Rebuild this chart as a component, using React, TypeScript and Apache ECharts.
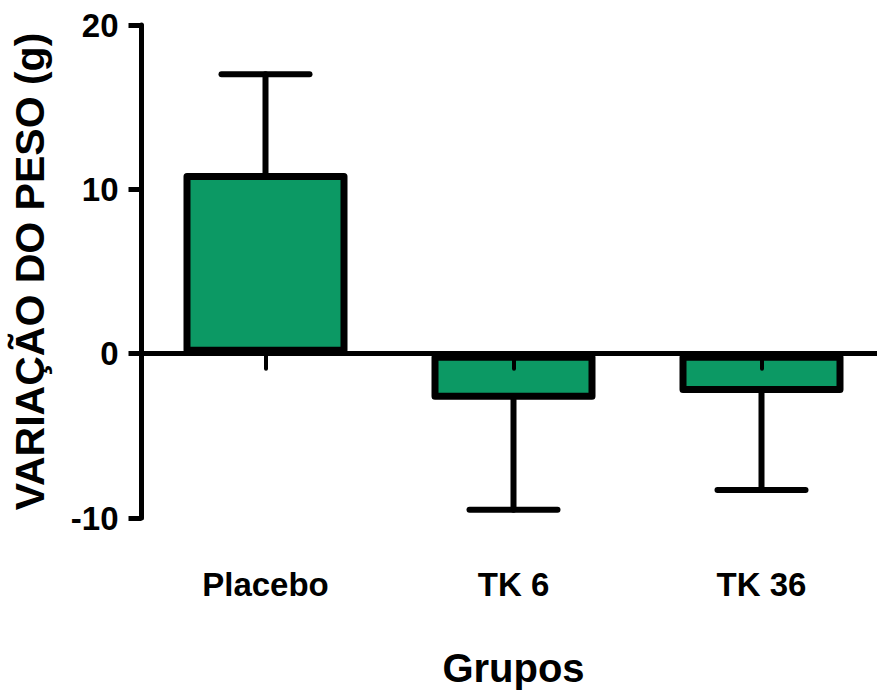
import React, { useEffect, useRef } from "react";
import * as echarts from "echarts";

const categories = ["Placebo", "TK 6", "TK 36"];
const means = [11, -2.8, -2.4];
const errors = [6, 6.7, 5.9];
const yTicks = { min: -10, max: 20, interval: 10 };
const yTitle = "VARIAÇÃO DO PESO (g)";
const xTitle = "Grupos";

const FONT = "'Liberation Sans', Arial, Helvetica, sans-serif";
const BAR_COLOR = "#0c9964";

export default function App() {
  const ref = useRef<HTMLDivElement>(null);
  useEffect(() => {
    if (!ref.current) return;
    const chart = echarts.init(ref.current, null, { renderer: "svg" });
    const errData = means.map((m, i) => [i, m, m >= 0 ? m + errors[i] : m - errors[i]]);
    chart.setOption({
      animation: false,
      backgroundColor: "#ffffff",
      grid: { left: 141.5, right: -8.5, top: 25, bottom: 175, containLabel: false, outerBoundsMode: "none" },
      xAxis: {
        type: "category",
        data: categories,
        z: 5,
        axisLine: { onZero: true, lineStyle: { color: "#000", width: 5 } },
        axisTick: { show: true, alignWithLabel: true, length: 15, lineStyle: { color: "#000", width: 4, cap: "round" } },
        axisLabel: { margin: 50, color: "#000", fontSize: 33, fontWeight: "bold", fontFamily: FONT },
        name: xTitle,
        nameLocation: "middle",
        nameGap: 130,
        nameTextStyle: { color: "#000", fontSize: 40, fontWeight: "bold", fontFamily: FONT },
        splitLine: { show: false },
      },
      yAxis: {
        type: "value",
        min: yTicks.min,
        max: yTicks.max,
        interval: yTicks.interval,
        z: 5,
        axisLine: { show: true, lineStyle: { color: "#000", width: 5 } },
        axisTick: { show: true, length: 13, lineStyle: { color: "#000", width: 5 } },
        axisLabel: { margin: 23, color: "#000", fontSize: 33, fontWeight: "bold", fontFamily: FONT },
        splitLine: { show: false },
        name: yTitle,
        nameLocation: "middle",
        nameGap: 91,
        nameTextStyle: { color: "#000", fontSize: 41, fontWeight: "bold", fontFamily: FONT },
      },
      series: [
        {
          type: "bar",
          data: means,
          barWidth: 164,
          itemStyle: { color: BAR_COLOR, borderColor: "#000", borderWidth: 7, borderJoin: "round" },
          z: 2,
        },
        {
          type: "custom",
          data: errData,
          z: 3,
          renderItem: (params: any, api: any) => {
            const idx = api.value(0);
            const start = api.coord([idx, api.value(1)]);
            const end = api.coord([idx, api.value(2)]);
            const half = 44;
            const style = { stroke: "#000", lineWidth: 6, lineCap: "round" };
            return {
              type: "group",
              children: [
                { type: "line", shape: { x1: start[0], y1: start[1], x2: end[0], y2: end[1] }, style },
                { type: "line", shape: { x1: end[0] - half, y1: end[1], x2: end[0] + half, y2: end[1] }, style },
              ],
            };
          },
        },
      ],
    });
    return () => chart.dispose();
  }, []);
  return (
    <div
      ref={ref}
      style={{ position: "fixed", left: 0, top: 0, width: 877, height: 693, background: "#fff" }}
    />
  );
}
